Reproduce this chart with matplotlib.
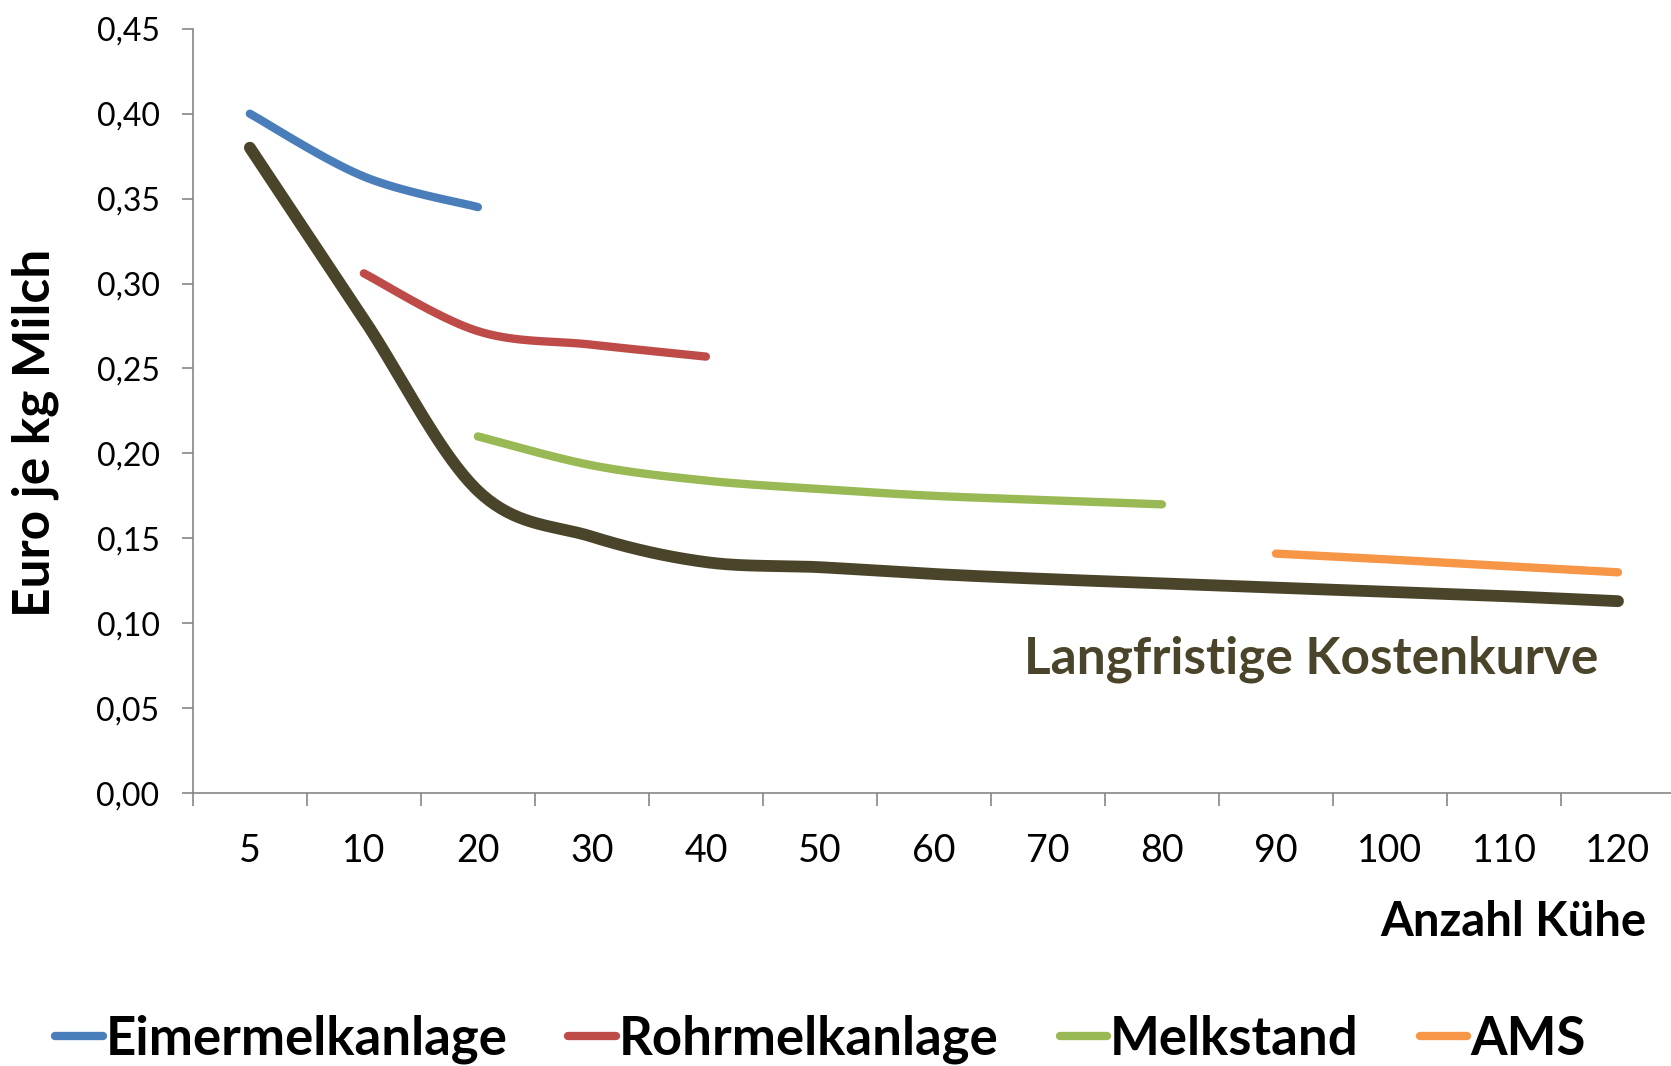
import matplotlib
matplotlib.use("Agg")
import matplotlib.pyplot as plt
import numpy as np
from matplotlib.ticker import FixedLocator, FuncFormatter

plt.rcParams["font.family"] = ["Lato", "DejaVu Sans"]

# herd size classes (categorical x axis)
kuehe = ["5", "10", "20", "30", "40", "50", "60", "70", "80", "90", "100", "110", "120"]

# cost per kg milk, None where the system is not used
eimer = [0.400, 0.363, 0.345, None, None, None, None, None, None, None, None, None, None]
rohr = [None, 0.306, 0.272, 0.264, 0.257, None, None, None, None, None, None, None, None]
melkstand = [None, None, 0.210, 0.193, 0.184, 0.179, 0.175, 0.1725, 0.170, None, None, None, None]
ams = [None, None, None, None, None, None, None, None, None, 0.141, 0.1375, 0.1337, 0.130]
langfristig = [0.380, 0.279, 0.178, 0.151, 0.136, 0.133, 0.129, 0.126, 0.1235, 0.121, 0.1185, 0.116, 0.113]

serien = [
    ("Eimermelkanlage", eimer, "#4A7EBB"),
    ("Rohrmelkanlage", rohr, "#BE4B48"),
    ("Melkstand", melkstand, "#98B954"),
    ("AMS", ams, "#F79646"),
]
dunkel = "#4A452A"


def glatt(werte, n=40):
    # smoothed line like Excel: cubic Bezier with Catmull-Rom control points
    pts = [(i + 1, v) for i, v in enumerate(werte) if v is not None]
    p = np.array(pts, dtype=float)
    if len(p) < 2:
        return p[:, 0], p[:, 1]
    xs, ys = [], []
    t = np.linspace(0, 1, n)
    for k in range(len(p) - 1):
        p0 = p[k - 1] if k > 0 else p[k]
        p1, p2 = p[k], p[k + 1]
        p3 = p[k + 2] if k + 2 < len(p) else p[k + 1]
        c1 = p1 + (p2 - p0) / 6
        c2 = p2 - (p3 - p1) / 6
        seg = ((1 - t) ** 3)[:, None] * p1 + (3 * (1 - t) ** 2 * t)[:, None] * c1 \
            + (3 * (1 - t) * t ** 2)[:, None] * c2 + (t ** 3)[:, None] * p2
        xs.append(seg[:, 0])
        ys.append(seg[:, 1])
    return np.concatenate(xs), np.concatenate(ys)


fig = plt.figure(figsize=(16.71, 10.66), dpi=100)
ax = fig.add_axes([0.1154, 0.256, 0.887, 0.717])

for name, werte, farbe in serien:
    x, y = glatt(werte)
    ax.plot(x, y, color=farbe, lw=6, solid_capstyle="round", label=name)

x, y = glatt(langfristig)
ax.plot(x, y, color=dunkel, lw=8.5, solid_capstyle="round")

ax.set_xlim(0.5, len(kuehe) + 0.5)
ax.set_ylim(0, 0.45)

grau = "#868686"
for s in ["top", "right"]:
    ax.spines[s].set_visible(False)
for s in ["left", "bottom"]:
    ax.spines[s].set_color(grau)
    ax.spines[s].set_linewidth(1.2)

ax.set_yticks(np.arange(0, 0.451, 0.05))
ax.yaxis.set_major_formatter(FuncFormatter(lambda v, p: f"{v:.2f}".replace(".", ",")))
ax.tick_params(axis="y", length=8, width=1.2, color=grau, pad=16, labelsize=23)

ax.xaxis.set_major_locator(FixedLocator(np.arange(0.5, len(kuehe) + 1, 1)))
ax.xaxis.set_minor_locator(FixedLocator(np.arange(1, len(kuehe) + 1)))
ax.set_xticklabels([], minor=False)
ax.set_xticklabels(kuehe, minor=True)
ax.tick_params(axis="x", which="major", length=9, width=1.2, color=grau)
ax.tick_params(axis="x", which="minor", length=0, pad=29, labelsize=27)

fig.text(0.021, 0.594, "Euro je kg Milch", rotation=90, ha="center", va="center",
         fontsize=37, fontweight="bold")
fig.text(0.985, 0.135, "Anzahl Kühe", ha="right", va="center",
         fontsize=34, fontweight="bold")
fig.text(0.7846, 0.382, "Langfristige Kostenkurve", ha="center", va="center",
         fontsize=37, fontweight="bold", color=dunkel)

fig.legend(loc="center", bbox_to_anchor=(0.491, 0.025), ncol=4, frameon=False,
           prop={"weight": "bold", "size": 38}, handlelength=0.9,
           handletextpad=0.06, columnspacing=1.15, borderpad=0)

fig.savefig("out.png", dpi=100)
